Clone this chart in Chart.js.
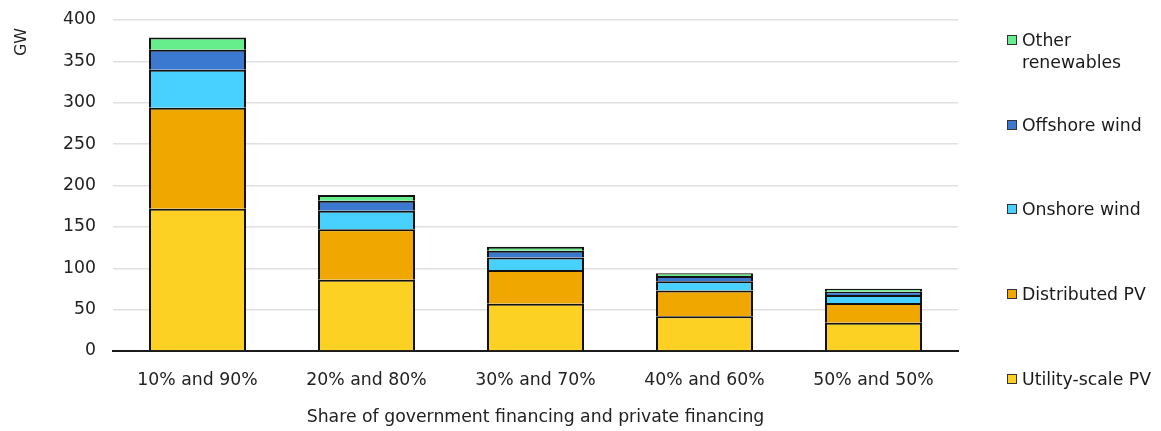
<!DOCTYPE html>
<html lang="en">
<head>
<meta charset="UTF-8">
<title>Renewable capacity by financing share</title>
<script src="https://cdn.jsdelivr.net/npm/chart.js"></script>
<style>
    html, body { margin: 0; padding: 0; background: #fff; }
    #wrap { position: relative; width: 1161px; height: 431px; }
    #legend { position: absolute; left: 0; top: 0; font-family: "DejaVu Sans", sans-serif; font-size: 17.3px; color: #1a1a1a; }
    .item { position: absolute; left: 1007px; line-height: 22px; white-space: nowrap; }
    .box { position: absolute; left: 0; top: 6px; width: 8px; height: 8px; border: 1px solid #333; }
    .lbl { position: absolute; left: 15px; top: 0; }
</style>
</head>
<body>
<div id="wrap">
    <canvas id="chart" width="1161" height="431"></canvas>
    <div id="legend"></div>
</div>
<script>
    const categories = ['10% and 90%', '20% and 80%', '30% and 70%', '40% and 60%', '50% and 50%'];

    const utilityPV   = [172, 86, 57, 42, 34];
    const distributed = [122, 61, 41, 31, 24];
    const onshore     = [46, 22.5, 15, 11.3, 9.7];
    const offshore    = [24, 12, 8, 6.4, 4];
    const other       = [15, 7, 5, 3.3, 3.6];

    const yTicks = [0, 50, 100, 150, 200, 250, 300, 350, 400];

    const font = '"DejaVu Sans", sans-serif';
    const fontSize = 17.3;

    const series = [
        { label: 'Utility-scale PV', data: utilityPV, color: '#fcd124' },
        { label: 'Distributed PV', data: distributed, color: '#f0a800' },
        { label: 'Onshore wind', data: onshore, color: '#48d1ff' },
        { label: 'Offshore wind', data: offshore, color: '#3b78d0' },
        { label: 'Other renewables', data: other, color: '#66ee8c' }
    ];

    // legende a droite, espacee comme l'original
    const legendRows = [
        { s: 4, top: 29, lines: ['Other', 'renewables'] },
        { s: 3, top: 114, lines: ['Offshore wind'] },
        { s: 2, top: 198, lines: ['Onshore wind'] },
        { s: 1, top: 283, lines: ['Distributed PV'] },
        { s: 0, top: 368, lines: ['Utility-scale PV'] }
    ];
    const legend = document.getElementById('legend');
    legendRows.forEach(r => {
        const d = document.createElement('div');
        d.className = 'item';
        d.style.top = r.top + 'px';
        d.innerHTML = '<div class="box" style="background:' + series[r.s].color + '"></div>' +
            '<div class="lbl">' + r.lines.join('<br>') + '</div>';
        legend.appendChild(d);
    });

    const yTitle = {
        id: 'yTitle',
        afterDraw(chart) {
            const c = chart.ctx;
            c.save();
            c.translate(22, 42);
            c.rotate(-Math.PI / 2);
            c.font = '16px ' + font;
            c.fillStyle = '#222';
            c.textAlign = 'center';
            c.textBaseline = 'middle';
            c.fillText('GW', 0, 0);
            c.restore();
        }
    };

    const ctx = document.getElementById('chart').getContext('2d');
    const chart = new Chart(ctx, {
        type: 'bar',
        data: {
            labels: categories,
            datasets: series.map(s => ({
                label: s.label,
                data: s.data,
                backgroundColor: s.color,
                borderColor: '#111',
                borderWidth: 2,
                barPercentage: 0.574,
                categoryPercentage: 1
            }))
        },
        options: {
            responsive: false,
            animation: false,
            layout: { padding: { top: 20, right: 203, left: 0, bottom: 0 } },
            plugins: {
                legend: { display: false },
                tooltip: { enabled: false }
            },
            scales: {
                x: {
                    stacked: true,
                    grid: { display: false, drawTicks: false },
                    border: { color: '#1a1a1a', width: 2 },
                    ticks: { padding: 19, color: '#222', font: { family: font, size: fontSize } },
                    title: {
                        display: true,
                        text: 'Share of government financing and private financing',
                        color: '#222',
                        font: { family: font, size: fontSize },
                        padding: { top: 0, bottom: 3 }
                    },
                    afterFit(scale) { scale.height = 80; }
                },
                y: {
                    stacked: true,
                    min: 0,
                    max: 400,
                    afterBuildTicks(scale) { scale.ticks = yTicks.map(v => ({ value: v })); },
                    grid: { color: '#e0e0e0', lineWidth: 1.5, drawTicks: false },
                    border: { display: false },
                    ticks: { padding: 17, color: '#222', font: { family: font, size: fontSize } },
                    afterFit(scale) {
                        scale.width = 113;
                        scale.paddingTop = 0;
                        scale.paddingBottom = 0;
                    }
                }
            }
        },
        plugins: [yTitle]
    });
</script>
</body>
</html>
